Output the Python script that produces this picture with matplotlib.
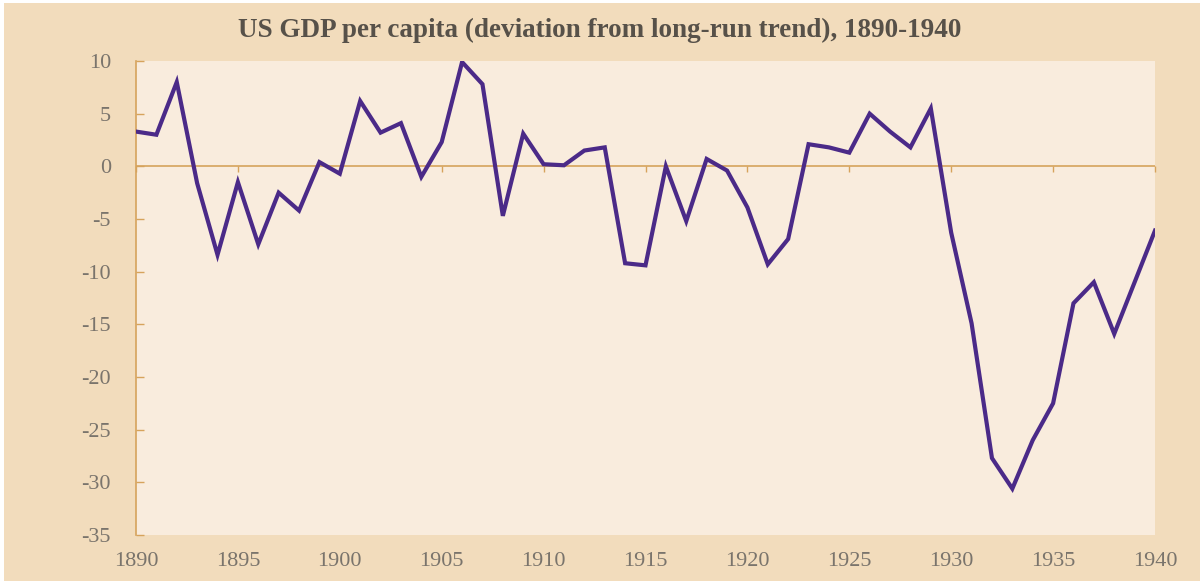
import matplotlib.pyplot as plt
from matplotlib.patches import Rectangle

years = list(range(1890, 1941))
deviation = [
    3.3, 3.0, 8.0, -1.6, -8.4, -1.5, -7.4, -2.5, -4.2, 0.4,
    -0.7, 6.2, 3.2, 4.1, -1.0, 2.3, 9.9, 7.8, -4.7, 3.1,
    0.2, 0.1, 1.5, 1.8, -9.2, -9.4, 0.0, -5.2, 0.7, -0.4,
    -3.9, -9.3, -6.9, 2.1, 1.8, 1.3, 5.0, 3.3, 1.8, 5.5,
    -6.3, -14.9, -27.7, -30.6, -26.0, -22.5, -13.0, -11.0, -15.9, -11.0,
    -6.1,
]
x_ticks = list(range(1890, 1941, 5))
y_ticks = list(range(-35, 11, 5))

outer_bg = "#f2dcbc"
inner_bg = "#f9ecdd"
axis_col = "#d6a35c"
text_col = "#7a746c"
line_col = "#4b2a88"
serif = ["Liberation Serif", "DejaVu Serif"]

plt.rcParams["axes.unicode_minus"] = False

fig = plt.figure(figsize=(12, 5.81), dpi=100)
fig.patch.set_facecolor("white")
fig.patches.append(Rectangle((4 / 1200, 0), 1, 1 - 3 / 581,
                             transform=fig.transFigure, facecolor=outer_bg,
                             edgecolor="none", zorder=-10))

ax = fig.add_axes([136 / 1200, 1 - 535 / 581, 1019 / 1200, 474 / 581])
ax.set_facecolor(inner_bg)
ax.plot(years, deviation, color=line_col, linewidth=3.0, zorder=5,
        solid_joinstyle="miter")

ax.set_xlim(1890, 1940)
ax.set_ylim(-35, 10)
ax.set_yticks(y_ticks)
ax.set_xticks(x_ticks)

for side in ["top", "right", "bottom"]:
    ax.spines[side].set_visible(False)
ax.spines["left"].set_color(axis_col)
ax.spines["left"].set_linewidth(1.2)

ax.tick_params(axis="y", direction="in", length=6, width=1.0, color=axis_col,
               pad=18, labelsize=16, labelcolor=text_col)
ax.tick_params(axis="x", length=0, pad=12, labelsize=16, labelcolor=text_col)
for lbl in ax.get_xticklabels() + ax.get_yticklabels():
    lbl.set_family(serif)

# zero line with upward tick marks
ax.axhline(0, color=axis_col, linewidth=1.2, zorder=2)
zero_ax = ax.secondary_xaxis(0, transform=ax.transData)
zero_ax.set_xticks(x_ticks)
zero_ax.spines["top"].set_visible(False)
zero_ax.spines["bottom"].set_visible(False)
zero_ax.tick_params(axis="x", direction="out", length=4.5, width=1.0,
                    color=axis_col, labeltop=False, labelbottom=False)

fig.text(0.5, 1 - 30 / 581,
         "US GDP per capita (deviation from long-run trend), 1890-1940",
         ha="center", va="center", fontsize=19.5, fontweight="bold",
         color="#575149", family=serif)

fig.savefig("out.png", dpi=100, facecolor=fig.get_facecolor())
